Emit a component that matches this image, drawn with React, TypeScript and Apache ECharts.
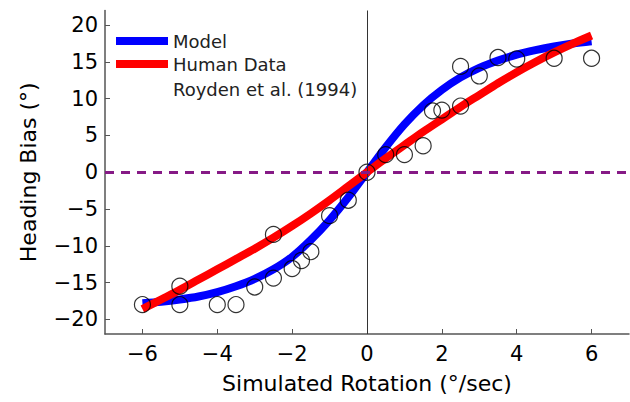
import React, { useEffect, useRef } from "react";
import * as echarts from "echarts";

const modelX = [-6, -5.5, -5, -4.5, -4, -3.5, -3, -2.5, -2, -1.5, -1, -0.5, 0, 0.5, 1, 1.5, 2, 2.5, 3, 3.5, 4, 4.5, 5, 5.5, 6];
const modelY = [-17.8, -17.6, -17.3, -16.9, -16.3, -15.5, -14.5, -13.2, -11.5, -9.2, -6.5, -3.4, 0, 3.4, 6.5, 9.1, 11.2, 12.9, 14.2, 15.2, 16.0, 16.6, 17.1, 17.5, 17.8];
const humanFitX = [-6, -5.5, -5, -4.5, -4, -3.5, -3, -2.5, -2, -1.5, -1, -0.5, 0, 0.5, 1, 1.5, 2, 2.5, 3, 3.5, 4, 4.5, 5, 5.5, 6];
const humanFitY = [-18.6, -17.3, -16.0, -14.6, -13.2, -11.8, -10.4, -8.9, -7.3, -5.6, -3.8, -1.9, 0, 1.9, 3.7, 5.5, 7.2, 8.9, 10.5, 12.1, 13.6, 15.0, 16.3, 17.5, 18.6];
const roydenX = [-6, -5, -5, -4, -3.5, -3, -2.5, -2.5, -2, -1.75, -1.5, -1, -0.5, 0, 0.5, 1, 1.5, 1.75, 2, 2.5, 2.5, 3, 3.5, 4, 5, 6];
const roydenY = [-18, -15.5, -18, -18, -18, -15.6, -14.4, -8.45, -13.1, -12, -10.8, -5.9, -3.8, 0, 2.4, 2.4, 3.6, 8.35, 8.45, 9, 14.4, 13.1, 15.6, 15.4, 15.5, 15.5];
const xTicks = [-6, -4, -2, 0, 2, 4, 6];
const yTicks = [-20, -15, -10, -5, 0, 5, 10, 15, 20];

const FONT = "DejaVu Sans";
const fmt = (v: number) => String(v).replace("-", "\u2212");

export default function App() {
  const ref = useRef<HTMLDivElement>(null);
  useEffect(() => {
    if (!ref.current) return;
    const chart = echarts.init(ref.current, null, { renderer: "svg" });
    const axisLine = { show: true, lineStyle: { color: "#555", width: 1.5 } };
    chart.setOption({
      animation: false,
      backgroundColor: "#fff",
      grid: { left: 105, right: 1, top: 10.5, bottom: 68 },
      legend: {
        orient: "vertical",
        left: 116,
        top: 32,
        padding: 0,
        itemGap: 5,
        itemWidth: 52,
        itemHeight: 8,
        icon: "rect",
        data: ["Model", "Human Data"],
        textStyle: { fontFamily: FONT, fontSize: 18, color: "#222" },
      },
      graphic: [
        {
          type: "text",
          left: 173,
          top: 80,
          style: { text: "Royden et al. (1994)", fontFamily: FONT, fontSize: 18, fill: "#222" },
        },
      ],
      xAxis: {
        type: "value",
        min: -7,
        max: 7,
        axisLine: { ...axisLine, onZero: false },
        splitLine: { show: false },
        axisTick: { show: true, inside: true, length: 5, customValues: xTicks, lineStyle: { color: "#555" } },
        axisLabel: { customValues: xTicks, formatter: fmt, fontFamily: FONT, fontSize: 21, color: "#000", margin: 9 },
        name: "Simulated Rotation (°/sec)",
        nameLocation: "middle",
        nameGap: 38,
        nameTextStyle: { fontFamily: FONT, fontSize: 22, color: "#000" },
      },
      yAxis: {
        type: "value",
        min: -22,
        max: 22,
        axisLine: { ...axisLine, onZero: false },
        splitLine: { show: false },
        axisTick: { show: true, inside: true, length: 5, customValues: yTicks, lineStyle: { color: "#555" } },
        axisLabel: { customValues: yTicks, formatter: fmt, fontFamily: FONT, fontSize: 21, color: "#000", margin: 7 },
        name: "Heading Bias (°)",
        nameLocation: "middle",
        nameGap: 66,
        nameTextStyle: { fontFamily: FONT, fontSize: 22, color: "#000" },
      },
      series: [
        {
          name: "refs",
          type: "line",
          data: [],
          z: 1,
          markLine: {
            silent: true,
            symbol: "none",
            label: { show: false },
            data: [
              { xAxis: 0, lineStyle: { color: "#333", width: 1, type: "solid" } },
              { yAxis: 0, lineStyle: { color: "#861a86", width: 3, type: [9, 7] } },
            ],
          },
        },
        {
          name: "Model",
          type: "line",
          z: 2,
          smooth: 0.3,
          showSymbol: false,
          color: "#0000ff",
          lineStyle: { color: "#0000ff", width: 8 },
          data: modelX.map((x, i) => [x, modelY[i]]),
        },
        {
          name: "Human Data",
          type: "line",
          z: 3,
          smooth: 0.3,
          showSymbol: false,
          color: "#ff0000",
          lineStyle: { color: "#ff0000", width: 8 },
          data: humanFitX.map((x, i) => [x, humanFitY[i]]),
        },
        {
          name: "Royden et al. (1994)",
          type: "scatter",
          z: 4,
          symbol: "circle",
          symbolSize: 16,
          itemStyle: { color: "rgba(0,0,0,0)", borderColor: "#000", borderWidth: 1.2 },
          data: roydenX.map((x, i) => [x, roydenY[i]]),
        },
      ],
    });
    return () => chart.dispose();
  }, []);
  return <div ref={ref} style={{ position: "fixed", left: 0, top: 0, width: 630, height: 402 }} />;
}
